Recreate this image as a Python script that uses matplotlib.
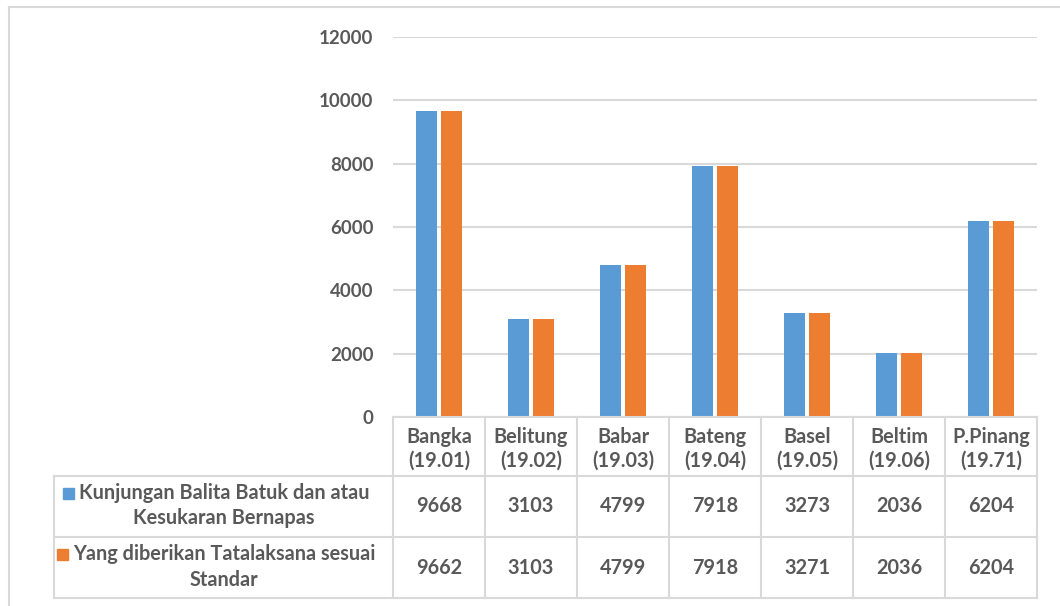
import matplotlib
matplotlib.use("Agg")
import matplotlib.pyplot as plt
import numpy as np
from matplotlib.lines import Line2D
from matplotlib.patches import Rectangle

categories = ["Bangka\n(19.01)", "Belitung\n(19.02)", "Babar\n(19.03)", "Bateng\n(19.04)",
              "Basel\n(19.05)", "Beltim\n(19.06)", "P.Pinang\n(19.71)"]
series1_name = "Kunjungan Balita Batuk dan atau\nKesukaran Bernapas"
series2_name = "Yang diberikan Tatalaksana sesuai\nStandar"
series1 = [9668, 3103, 4799, 7918, 3273, 2036, 6204]
series2 = [9662, 3103, 4799, 7918, 3271, 2036, 6204]
yticks = [0, 2000, 4000, 6000, 8000, 10000, 12000]

BLUE = "#5B9BD5"
ORANGE = "#ED7D31"
TXT = "#595959"
GRID = "#D9D9D9"
FONT = "Lato"

W, H = 1060, 606
fig = plt.figure(figsize=(W / 100, H / 100), dpi=100)

def fx(px):
    return px / W

def fy(py):
    return 1 - py / H

ax_l, ax_r, ax_t, ax_b = 393, 1037, 37, 417
ax = fig.add_axes([fx(ax_l), fy(ax_b), fx(ax_r - ax_l), (ax_b - ax_t) / H])
n = len(categories)
x = np.arange(n)
bw = 0.228
off = 0.141
ax.bar(x - off, series1, width=bw, color=BLUE, zorder=3)
ax.bar(x + off, series2, width=bw, color=ORANGE, zorder=3)
ax.set_xlim(-0.5, n - 0.5)
ax.set_ylim(0, 12000)
ax.set_yticks(yticks)
ax.set_yticklabels([str(v) for v in yticks], fontfamily=FONT, fontweight="bold",
                   fontsize=13.5, color=TXT)
ax.tick_params(axis="y", length=0, pad=14)
ax.set_xticks([])
for s in ax.spines.values():
    s.set_visible(False)
ax.grid(axis="y", color=GRID, linewidth=1.5, zorder=0)
ax.set_axisbelow(True)

def hline(y, x0, x1, lw=1.5):
    fig.add_artist(Line2D([fx(x0), fx(x1)], [fy(y), fy(y)], color=GRID, lw=lw,
                          transform=fig.transFigure))

def vline(xp, y0, y1, lw=1.5):
    fig.add_artist(Line2D([fx(xp), fx(xp)], [fy(y0), fy(y1)], color=GRID, lw=lw,
                          transform=fig.transFigure))

# outer chart frame
hline(7, 9, W)
vline(9, 7, H)

# data table
col_w = (ax_r - ax_l) / n
leg_l = 54
r0, r1, r2, r3 = 417, 476, 537, 598
hline(r0, ax_l, ax_r)
hline(r1, leg_l, ax_r)
hline(r2, leg_l, ax_r)
hline(r3, leg_l, ax_r)
vline(leg_l, r1, r3)
for i in range(n + 1):
    vline(ax_l + i * col_w, r0, r3)

tkw = dict(fontfamily=FONT, fontweight="bold", fontsize=14.3, color=TXT,
           ha="center", va="center", transform=fig.transFigure)
for i, cat in enumerate(categories):
    cx = ax_l + (i + 0.5) * col_w
    l1, l2 = cat.split("\n")
    fig.text(fx(cx), fy(437), l1, **tkw)
    fig.text(fx(cx), fy(461), l2, **tkw)
    fig.text(fx(cx), fy((r1 + r2) / 2), str(series1[i]), **tkw)
    fig.text(fx(cx), fy((r2 + r3) / 2), str(series2[i]), **tkw)

fig.canvas.draw()
renderer = fig.canvas.get_renderer()
leg_cx = 224
for name, col, ya, yb in [(series1_name, BLUE, 493, 518), (series2_name, ORANGE, 554, 580)]:
    l1, l2 = name.split("\n")
    t1 = fig.text(fx(leg_cx), fy(ya), l1, **tkw)
    fig.text(fx(leg_cx), fy(yb), l2, **tkw)
    bb = t1.get_window_extent(renderer)
    sq = 11
    fig.add_artist(Rectangle(((bb.x0 - 5 - sq) / W, fy(ya) - sq / 2 / H), sq / W, sq / H,
                             color=col, transform=fig.transFigure))

fig.savefig("out.png", dpi=100)
